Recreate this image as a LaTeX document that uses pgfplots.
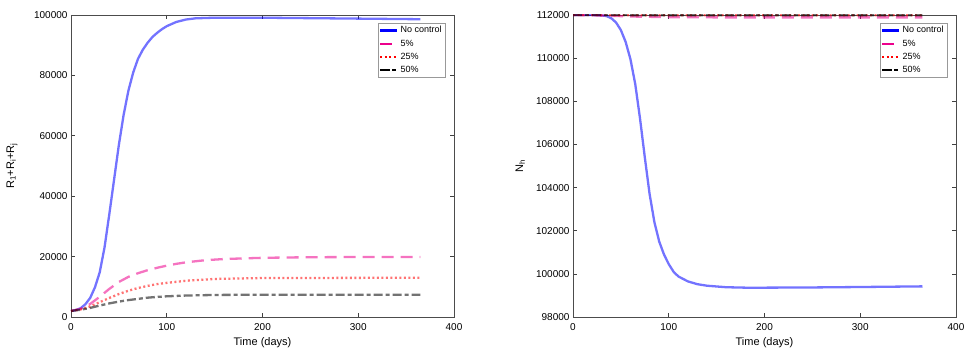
\documentclass[border=0pt]{standalone}
\usepackage{pgfplots}
\pgfplotsset{compat=1.18}
\usepackage{fontspec}
\setmainfont{Liberation Sans}
\begin{document}
\begin{tikzpicture}
\useasboundingbox (-71pt,-33pt) rectangle (895pt,317pt);
\pgfplotsset{
 myax/.style={scale only axis, width=383pt, height=302pt, anchor=south west,
   xmin=0, xmax=400, xtick={0,100,200,300,400}, xticklabels={0,100,200,300,400},
   scaled ticks=false,
   tick label style={font=\fontsize{10}{12}\selectfont},
   xticklabel style={yshift=-2.5pt},
   label style={font=\fontsize{11}{13}\selectfont},
   xlabel={Time (days)},
   xlabel style={at={(axis description cs:0.5,0)}, anchor=center, yshift=-26pt},
   major tick length=4pt, tick style={black!75, line width=0.6pt},
   axis line style={black!70, line width=0.7pt},
   legend style={at={(axis description cs:0.9765,0.9735)}, anchor=north east,
     font=\fontsize{9}{10}\selectfont, draw=black!40, inner sep=1.2pt, row sep=1.5pt},
   legend cell align=left,
   legend image post style={draw opacity=1},
 },
 nc/.style={blue, line width=2.3pt, draw opacity=0.55},
 p5/.style={magenta, line width=2.3pt, draw opacity=0.55, dash pattern=on 12pt off 7pt},
 p25/.style={red, line width=2.3pt, draw opacity=0.55, dash pattern=on 2pt off 2.5pt},
 p50/.style={black, line width=2.3pt, draw opacity=0.55, dash pattern=on 9pt off 3pt on 4pt off 3pt},
}
\begin{axis}[myax, at={(0pt,0pt)}, ymin=0, ymax=100000,
  ytick={0,20000,40000,60000,80000,100000},
  yticklabels={0,20000,40000,60000,80000,100000},
  ylabel={R\textsubscript{1}+R\textsubscript{i}+R\textsubscript{j}},
  ylabel style={at={(axis description cs:-0.154,0.5)}, anchor=center}]
\addplot[nc] coordinates {(0,2000)(5,2300)(10,2900)(15,4200)(20,6300)(25,9800)(30,14800)(35,23000)(40,34000)(45,45500)(50,57000)(55,67000)(60,75000)(65,81000)(70,85500)(75,88500)(80,90800)(85,92700)(90,94100)(95,95300)(100,96300)(110,97700)(120,98500)(130,98900)(150,99100)(200,99100)(250,98950)(300,98800)(365,98600)};
\addlegendentry{No control}
\addplot[p5] coordinates {(0,2000)(10,2700)(20,4300)(30,6700)(40,9300)(50,11600)(60,13300)(70,14500)(80,15500)(90,16300)(100,17000)(110,17600)(120,18100)(140,18800)(160,19200)(200,19600)(250,19800)(300,19850)(365,19850)};
\addlegendentry{5\%}
\addplot[p25] coordinates {(0,2000)(10,2500)(20,3500)(30,4900)(40,6300)(50,7600)(60,8700)(70,9600)(80,10300)(90,10900)(100,11300)(120,12000)(150,12600)(200,12900)(365,13000)};
\addlegendentry{25\%}
\addplot[p50] coordinates {(0,2000)(10,2400)(20,3000)(30,3800)(40,4500)(50,5100)(60,5600)(70,6000)(80,6400)(90,6650)(100,6850)(120,7100)(150,7300)(200,7400)(365,7400)};
\addlegendentry{50\%}
\end{axis}
\begin{axis}[myax, at={(502pt,0pt)}, ymin=98000, ymax=112000,
  ytick={98000,100000,102000,104000,106000,108000,110000,112000},
  yticklabels={98000,100000,102000,104000,106000,108000,110000,112000},
  ylabel={N\textsubscript{h}},
  ylabel style={at={(axis description cs:-0.138,0.5)}, anchor=center}]
\addplot[nc] coordinates {(0,112000)(20,112000)(30,111980)(35,111950)(40,111850)(45,111650)(50,111300)(55,110750)(60,109950)(65,108800)(70,107200)(75,105400)(80,103700)(85,102400)(90,101500)(95,100900)(100,100450)(105,100100)(110,99880)(120,99650)(130,99520)(140,99450)(160,99380)(180,99360)(200,99360)(250,99370)(300,99390)(365,99420)};
\addlegendentry{No control}
\addplot[p5] coordinates {(0,112000)(30,111980)(60,111930)(100,111900)(150,111890)(365,111890)};
\addlegendentry{5\%}
\addplot[p25] coordinates {(0,112000)(60,111990)(150,111985)(365,111985)};
\addlegendentry{25\%}
\addplot[p50] coordinates {(0,112000)(60,111995)(150,111990)(365,111990)};
\addlegendentry{50\%}
\end{axis}
\end{tikzpicture}
\end{document}
